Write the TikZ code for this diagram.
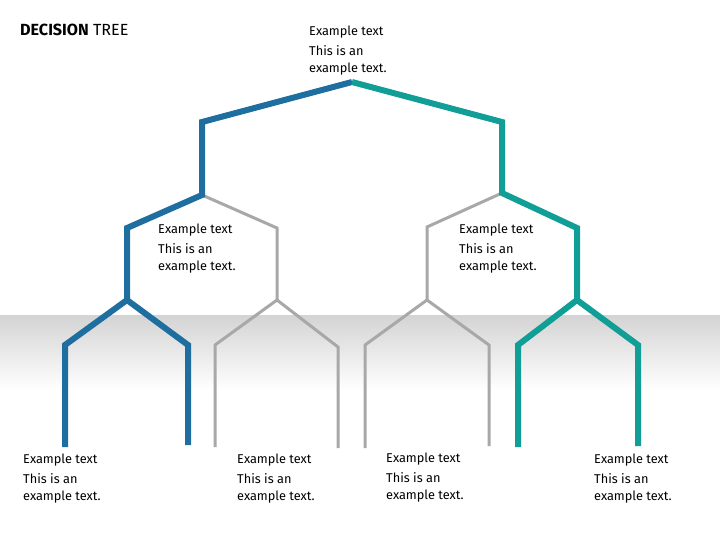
\documentclass[tikz,border=0pt]{standalone}
\usepackage{fontspec}
\setmainfont{Fira Sans}
\usepackage{tikz}
\usetikzlibrary{positioning}

\definecolor{treeblue}{RGB}{30,110,160}
\definecolor{treeteal}{RGB}{16,158,150}
\definecolor{treegray}{RGB}{168,168,168}

\begin{document}
\begin{tikzpicture}[x=1bp, y=-1bp,
    every node/.style={font=\fontsize{12.8}{17}\selectfont},
    txt/.style={anchor=north west, inner sep=0pt, align=left},
    bluebranch/.style={draw=treeblue, line width=6bp},
    tealbranch/.style={draw=treeteal, line width=6bp},
    graybranch/.style={draw=treegray, line width=3bp},
]
\useasboundingbox (0,0) rectangle (720,540);
\shade[top color=black!17, bottom color=white] (0,315) rectangle (720,390);

% branch points
\coordinate (root) at (352,82);
\coordinate (a1) at (202,122); \coordinate (a) at (202,195);
\coordinate (b1) at (502,122); \coordinate (b) at (502,193);
\coordinate (aL1) at (127,228); \coordinate (aL) at (127,300);
\coordinate (aR1) at (277,228); \coordinate (aR) at (277,300);
\coordinate (bL1) at (427,227); \coordinate (bL) at (427,300);
\coordinate (bR1) at (577,228); \coordinate (bR) at (577,300);
\coordinate (l1a) at (65,345);  \coordinate (l1) at (65,447);
\coordinate (l2a) at (188,345); \coordinate (l2) at (188,445);
\coordinate (l3a) at (215,345); \coordinate (l3) at (215,447);
\coordinate (l4a) at (338,347); \coordinate (l4) at (338,448);
\coordinate (l5a) at (365,345); \coordinate (l5) at (365,448);
\coordinate (l6a) at (489,345); \coordinate (l6) at (489,446);
\coordinate (l7a) at (518,345); \coordinate (l7) at (518,447);
\coordinate (l8a) at (638,345); \coordinate (l8) at (638,446);

% gray branches
\draw[graybranch] (a) -- (aR1) -- (aR);
\draw[graybranch] (b) -- (bL1) -- (bL);
\draw[graybranch] (aR) -- (l3a) -- (l3);
\draw[graybranch] (aR) -- (l4a) -- (l4);
\draw[graybranch] (bL) -- (l5a) -- (l5);
\draw[graybranch] (bL) -- (l6a) -- (l6);

% blue branches
\draw[bluebranch] (root) -- (a1) -- (a) -- (aL1) -- (aL);
\draw[bluebranch] (aL) -- (l1a) -- (l1);
\draw[bluebranch] (aL) -- (l2a) -- (l2);

% teal branches
\draw[tealbranch] (root) -- (b1) -- (b) -- (bR1) -- (bR);
\draw[tealbranch] (bR) -- (l7a) -- (l7);
\draw[tealbranch] (bR) -- (l8a) -- (l8);

% texts
\node[anchor=west, inner sep=0pt, font=\fontsize{16.2}{18}\selectfont] (title) at (20,30) {\textbf{DECISION} TREE};
\node[txt] (toptxt) at (309,26) {Example text\\[3bp]This is an\\example text.};
\node[txt] (lefttxt) at (158,224) {Example text\\[3bp]This is an\\example text.};
\node[txt] (righttxt) at (459,224) {Example text\\[3bp]This is an\\example text.};
\node[txt] (leaf1txt) at (23,454) {Example text\\[3bp]This is an\\example text.};
\node[txt] (leaf2txt) at (237,454) {Example text\\[3bp]This is an\\example text.};
\node[txt] (leaf3txt) at (386,453) {Example text\\[3bp]This is an\\example text.};
\node[txt] (leaf4txt) at (594,454) {Example text\\[3bp]This is an\\example text.};
\end{tikzpicture}
\end{document}
